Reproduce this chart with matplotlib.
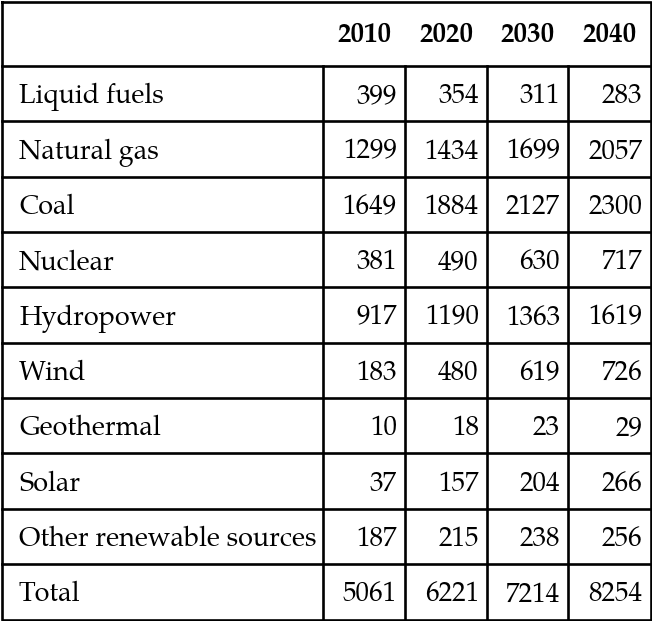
import matplotlib
matplotlib.use("Agg")
import matplotlib.pyplot as plt

years = ["2010", "2020", "2030", "2040"]
sources = ["Liquid fuels", "Natural gas", "Coal", "Nuclear", "Hydropower",
           "Wind", "Geothermal", "Solar", "Other renewable sources", "Total"]
v2010 = [399, 1299, 1649, 381, 917, 183, 10, 37, 187, 5061]
v2020 = [354, 1434, 1884, 490, 1190, 480, 18, 157, 215, 6221]
v2030 = [311, 1699, 2127, 630, 1363, 619, 23, 204, 238, 7214]
v2040 = [283, 2057, 2300, 717, 1619, 726, 29, 266, 256, 8254]

plt.rcParams["font.family"] = ["TeX Gyre Pagella", "Liberation Serif", "DejaVu Serif"]

W, H = 652, 621
fs = 19.5

fig = plt.figure(figsize=(W / 100, H / 100), dpi=100)
ax = fig.add_axes([0, 0, 1, 1])
ax.set_xlim(0, W)
ax.set_ylim(H, 0)
ax.axis("off")

# layout in pixels
left, right, top, bottom = 1.5, 650.5, 1.5, 619.5
head_bottom = 66
col_edges = [left, 323, 405, 487, 568, right]
n = len(sources)
row_h = (bottom - head_bottom) / n
lw = 1.9

# borders
ax.plot([left, right, right, left, left], [top, top, bottom, bottom, top],
        color="black", lw=lw, solid_capstyle="projecting")
for i in range(n):
    y = head_bottom + i * row_h
    ax.plot([left, right], [y, y], color="black", lw=lw)
for x in col_edges[1:-1]:
    ax.plot([x, x], [head_bottom, bottom], color="black", lw=lw)

# header
for j, yr in enumerate(years):
    cx = (col_edges[j + 1] + col_edges[j + 2]) / 2
    ax.text(cx, head_bottom / 2 + 3, yr, ha="center", va="center",
            fontsize=fs, fontweight="bold")

# body
cols = [v2010, v2020, v2030, v2040]
for i, name in enumerate(sources):
    cy = head_bottom + (i + 0.5) * row_h + 3.5
    ax.text(19, cy, name, ha="left", va="center", fontsize=fs)
    for j, col in enumerate(cols):
        ax.text(col_edges[j + 2] - 8, cy, str(col[i]), ha="right",
                va="center", fontsize=fs)

fig.savefig("out.png", dpi=100)
